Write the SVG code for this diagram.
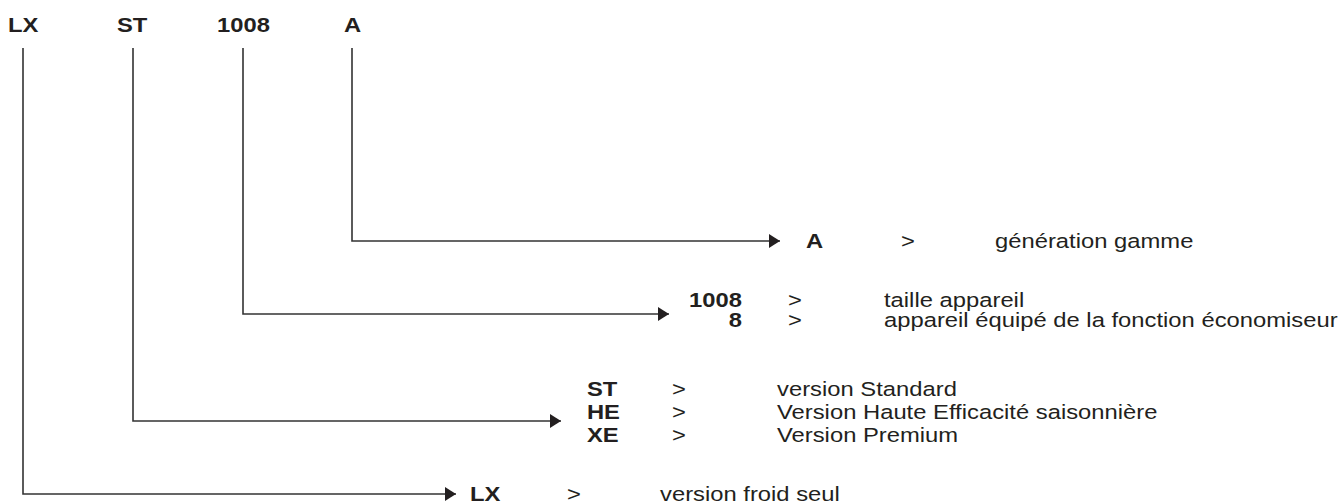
<svg xmlns="http://www.w3.org/2000/svg" width="1339" height="504" viewBox="0 0 1339 504">
<style>
text{font-family:"Liberation Sans",Arial,sans-serif;font-size:19.5px;fill:#231f20}
.b{font-weight:bold}
.ln{fill:none;stroke:#333;stroke-width:1.6}
</style>
<defs>
<marker id="ah" markerWidth="11" markerHeight="14" refX="11" refY="7" orient="auto" markerUnits="userSpaceOnUse">
<path d="M0,0 L11,7 L0,14 Z" fill="#231f20"/>
</marker>
</defs>
<rect width="1339" height="504" fill="#fff"/>
<g id="connectors">
<path class="ln" d="M23,48 V494 H456" marker-end="url(#ah)"/>
<path class="ln" d="M133,48 V421 H561" marker-end="url(#ah)"/>
<path class="ln" d="M243,48 V314 H669" marker-end="url(#ah)"/>
<path class="ln" d="M352,48 V241 H780" marker-end="url(#ah)"/>
</g>
<g transform="scale(1.22,1)">
<g id="code">
<text class="b" x="6.6" y="32">LX</text>
<text class="b" x="95.9" y="32">ST</text>
<text class="b" x="177.9" y="32">1008</text>
<text class="b" x="282" y="32">A</text>
</g>
<g id="node-A">
<text class="b" x="660.7" y="248">A</text>
<text x="738.5" y="248">&gt;</text>
<text x="815.6" y="248">génération gamme</text>
</g>
<g id="node-1008">
<text class="b" x="608.2" y="307" text-anchor="end">1008</text>
<text class="b" x="608.2" y="327" text-anchor="end">8</text>
<text x="645.9" y="307">&gt;</text>
<text x="645.9" y="327">&gt;</text>
<text x="724.6" y="307">taille appareil</text>
<text x="724.6" y="327">appareil équipé de la fonction économiseur</text>
</g>
<g id="node-ST">
<text class="b" x="481.1" y="396">ST</text>
<text class="b" x="481.1" y="419">HE</text>
<text class="b" x="481.1" y="442">XE</text>
<text x="550.8" y="396">&gt;</text>
<text x="550.8" y="419">&gt;</text>
<text x="550.8" y="442">&gt;</text>
<text x="636.9" y="396">version Standard</text>
<text x="636.9" y="419">Version Haute Efficacité saisonnière</text>
<text x="636.9" y="442">Version Premium</text>
</g>
<g id="node-LX">
<text class="b" x="385.2" y="501">LX</text>
<text x="464.8" y="501">&gt;</text>
<text x="541" y="501">version froid seul</text>
</g>
</g>
</svg>
